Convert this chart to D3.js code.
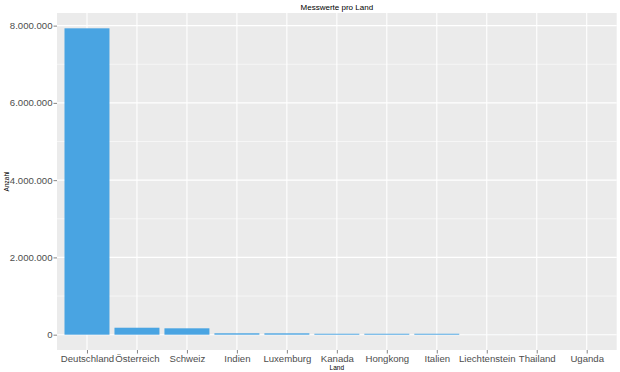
<!DOCTYPE html>
<html><head><meta charset="utf-8">
<script src="https://cdn.jsdelivr.net/npm/d3@7"></script>
<style>body{margin:0;background:#fff;}svg{display:block;font-family:"Liberation Sans",Arial,sans-serif;}</style>
</head><body>
<script>
const categories = ["Deutschland","Österreich","Schweiz","Indien","Luxemburg","Kanada","Hongkong","Italien","Liechtenstein","Thailand","Uganda"];
const values = [7930000,180000,165000,36000,35000,24000,24000,24000,500,300,200];
const yTicks = [0,2000000,4000000,6000000,8000000];
const yMinor = [1000000,3000000,5000000,7000000];
const title = "Messwerte pro Land";
const xTitle = "Land";
const yTitle = "Anzahl";

const W=620,H=372;
const m={left:57,right:3.3,top:13,bottom:22};
const svg=d3.select("body").append("svg").attr("width",W).attr("height",H);
const pw=W-m.left-m.right, ph=H-m.top-m.bottom;

const maxV=d3.max(values);
const pad=maxV*0.05;
const y=d3.scaleLinear().domain([-pad,maxV+pad]).range([m.top+ph,m.top]);
const n=categories.length;
const step=pw/(n-1+1.2);
const xc=d3.scalePoint().domain(categories).range([m.left+0.6*step,m.left+pw-0.6*step]);
const bw=0.9*step;

svg.append("rect").attr("x",m.left).attr("y",m.top).attr("width",pw).attr("height",ph).attr("fill","#EBEBEB");
const g=svg.append("g");
g.selectAll(".minor").data(yMinor).enter().append("line")
 .attr("x1",m.left).attr("x2",m.left+pw).attr("y1",d=>y(d)).attr("y2",d=>y(d))
 .attr("stroke","#fff").attr("stroke-width",0.55);
g.selectAll(".major").data(yTicks).enter().append("line")
 .attr("x1",m.left).attr("x2",m.left+pw).attr("y1",d=>y(d)).attr("y2",d=>y(d))
 .attr("stroke","#fff").attr("stroke-width",1.1);
g.selectAll(".vmaj").data(categories).enter().append("line")
 .attr("y1",m.top).attr("y2",m.top+ph).attr("x1",d=>xc(d)).attr("x2",d=>xc(d))
 .attr("stroke","#fff").attr("stroke-width",1.1);

svg.selectAll(".bar").data(values).enter().append("rect")
 .attr("x",(d,i)=>xc(categories[i])-bw/2).attr("width",bw)
 .attr("y",d=>y(d)).attr("height",d=>Math.max(0,y(0)-y(d)))
 .attr("fill","#49A4E2");

const ya=d3.axisLeft(y).tickValues(yTicks).tickSize(3.5).tickPadding(1)
 .tickFormat(d=>d3.format(",")(d).replace(/,/g,"."));
const yg=svg.append("g").attr("transform",`translate(${m.left},0)`).call(ya);
yg.select(".domain").remove();
yg.selectAll("line").attr("stroke","#333").attr("stroke-width",0.6);
yg.selectAll("text").attr("fill","#4D4D4D").style("font-size","9.6px").style("font-family","Liberation Sans, Arial, sans-serif");

const xa=d3.axisBottom(xc).tickSize(3.5).tickPadding(2);
const xg=svg.append("g").attr("transform",`translate(0,${m.top+ph})`).call(xa);
xg.select(".domain").remove();
xg.selectAll("line").attr("stroke","#333").attr("stroke-width",0.6);
xg.selectAll("text").attr("fill","#4D4D4D").style("font-size","9.6px").style("font-family","Liberation Sans, Arial, sans-serif");

svg.append("text").attr("x",m.left+pw/2).attr("y",10).attr("text-anchor","middle")
 .style("font-size","8px").attr("fill","#000").text(title);
svg.append("text").attr("x",m.left+pw/2).attr("y",369.5).attr("text-anchor","middle")
 .style("font-size","6.5px").attr("fill","#000").text(xTitle);
svg.append("text").attr("transform",`translate(8.5,${m.top+ph/2}) rotate(-90)`).attr("text-anchor","middle")
 .style("font-size","6.5px").attr("fill","#000").text(yTitle);
</script>
</body></html>
